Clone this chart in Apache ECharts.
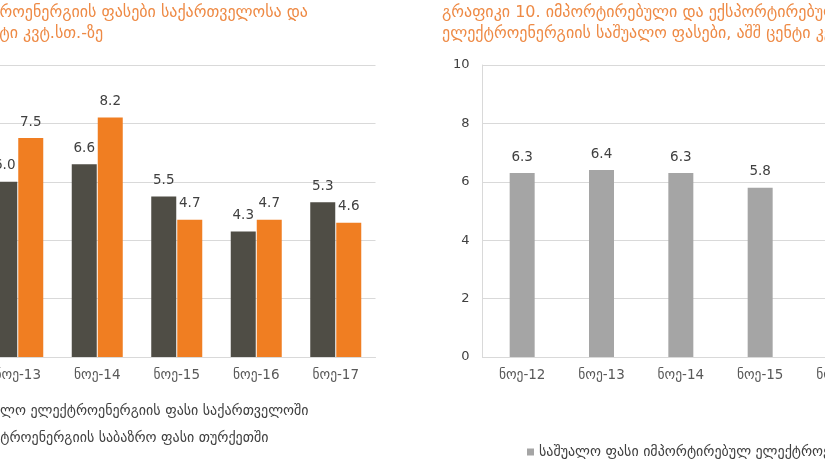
<!DOCTYPE html>
<html><head><meta charset="utf-8">
<script src="https://cdn.jsdelivr.net/npm/echarts@6/dist/echarts.min.js"></script>
<style>html,body{margin:0;padding:0;background:#fff}#c{width:825px;height:465px}</style>
</head><body><div id="c"></div>
<script>
// Left chart (graph 9): electricity prices, US cents per kWh
const leftCategories = ['ნოე-13','ნოე-14','ნოე-15','ნოე-16','ნოე-17'];
const leftGeorgia = [6.0, 6.6, 5.5, 4.3, 5.3];
const leftTurkey = [7.5, 8.2, 4.7, 4.7, 4.6];
const leftGeorgiaName = 'საშუალო ელექტროენერგიის ფასი საქართველოში';
const leftTurkeyName = 'ელექტროენერგიის საბაზრო ფასი თურქეთში';
const leftTitle = 'გრაფიკი 9. ელექტროენერგიის ფასები საქართველოსა და\nთურქეთში, აშშ ცენტი კვტ.სთ.-ზე';

// Right chart (graph 10): average price of imported electricity
const rightCategories = ['ნოე-12','ნოე-13','ნოე-14','ნოე-15','ნოე-16','ნოე-17'];
const rightImport = [6.3, 6.4, 6.3, 5.8, null, null];
const rightImportName = 'საშუალო ფასი იმპორტირებულ ელექტროენერგიაზე';
const rightTitle = 'გრაფიკი 10. იმპორტირებული და ექსპორტირებული\nელექტროენერგიის საშუალო ფასები, აშშ ცენტი კვტ.სთ.-ზე';

const yTicks = [0, 2, 4, 6, 8, 10];

const FONT = '"DejaVu Sans", sans-serif';
const chart = echarts.init(document.getElementById('c'));
const valLabel = {show: true, position: 'top', distance: 9, color: '#404040', fontSize: 13.5, fontFamily: FONT,
  formatter: p => p.value == null ? '' : p.value.toFixed(1)};
const catAxis = (cats, gi) => ({
  type: 'category', data: cats, gridIndex: gi,
  axisLine: {show: true, lineStyle: {color: '#D9D9D9'}}, axisTick: {show: false},
  axisLabel: {color: '#595959', fontSize: 13.5, fontFamily: FONT, margin: 11}
});
const valAxis = gi => ({
  type: 'value', gridIndex: gi, min: yTicks[0], max: yTicks[yTicks.length - 1], interval: 2,
  axisLine: {show: gi === 1, lineStyle: {color: '#D9D9D9'}}, axisTick: {show: false},
  splitLine: {lineStyle: {color: '#D9D9D9'}},
  axisLabel: {color: '#404040', fontSize: 13, fontFamily: FONT, margin: 13}
});
const titleStyle = {color: '#EE8A45', fontSize: 16, fontWeight: 'normal', fontFamily: FONT, lineHeight: 21};
chart.setOption({
  animation: false,
  textStyle: {fontFamily: FONT},
  title: [
    {text: leftTitle, left: -151, top: -3, textStyle: titleStyle},
    {text: rightTitle, left: 437, top: -3, textStyle: titleStyle}
  ],
  legend: [
    {data: [leftGeorgiaName, leftTurkeyName], orient: 'vertical', left: -53, top: 399, itemGap: 13,
     itemWidth: 7, itemHeight: 7, icon: 'rect', textStyle: {color: '#404040', fontSize: 14, fontFamily: FONT}},
    {data: [rightImportName], left: 522, top: 440, itemWidth: 7, itemHeight: 7, icon: 'rect', itemGap: 4,
     textStyle: {color: '#404040', fontSize: 14, fontFamily: FONT}}
  ],
  grid: [
    {left: -22, top: 65, width: 397.5, height: 292, outerBoundsMode: 'none', containLabel: false},
    {left: 482.5, top: 65, width: 476, height: 292, outerBoundsMode: 'none', containLabel: false}
  ],
  xAxis: [catAxis(leftCategories, 0), catAxis(rightCategories, 1)],
  yAxis: [valAxis(0), valAxis(1)],
  series: [
    {name: leftGeorgiaName, type: 'bar', xAxisIndex: 0, yAxisIndex: 0, data: leftGeorgia, barWidth: 25, barGap: '4%',
     itemStyle: {color: '#4F4D45'}, label: valLabel},
    {name: leftTurkeyName, type: 'bar', xAxisIndex: 0, yAxisIndex: 0, data: leftTurkey, barWidth: 25, barGap: '4%',
     itemStyle: {color: '#F07E22'}, label: valLabel},
    {name: rightImportName, type: 'bar', xAxisIndex: 1, yAxisIndex: 1, data: rightImport, barWidth: 25,
     itemStyle: {color: '#A5A5A5'}, label: valLabel}
  ]
});
</script></body></html>
